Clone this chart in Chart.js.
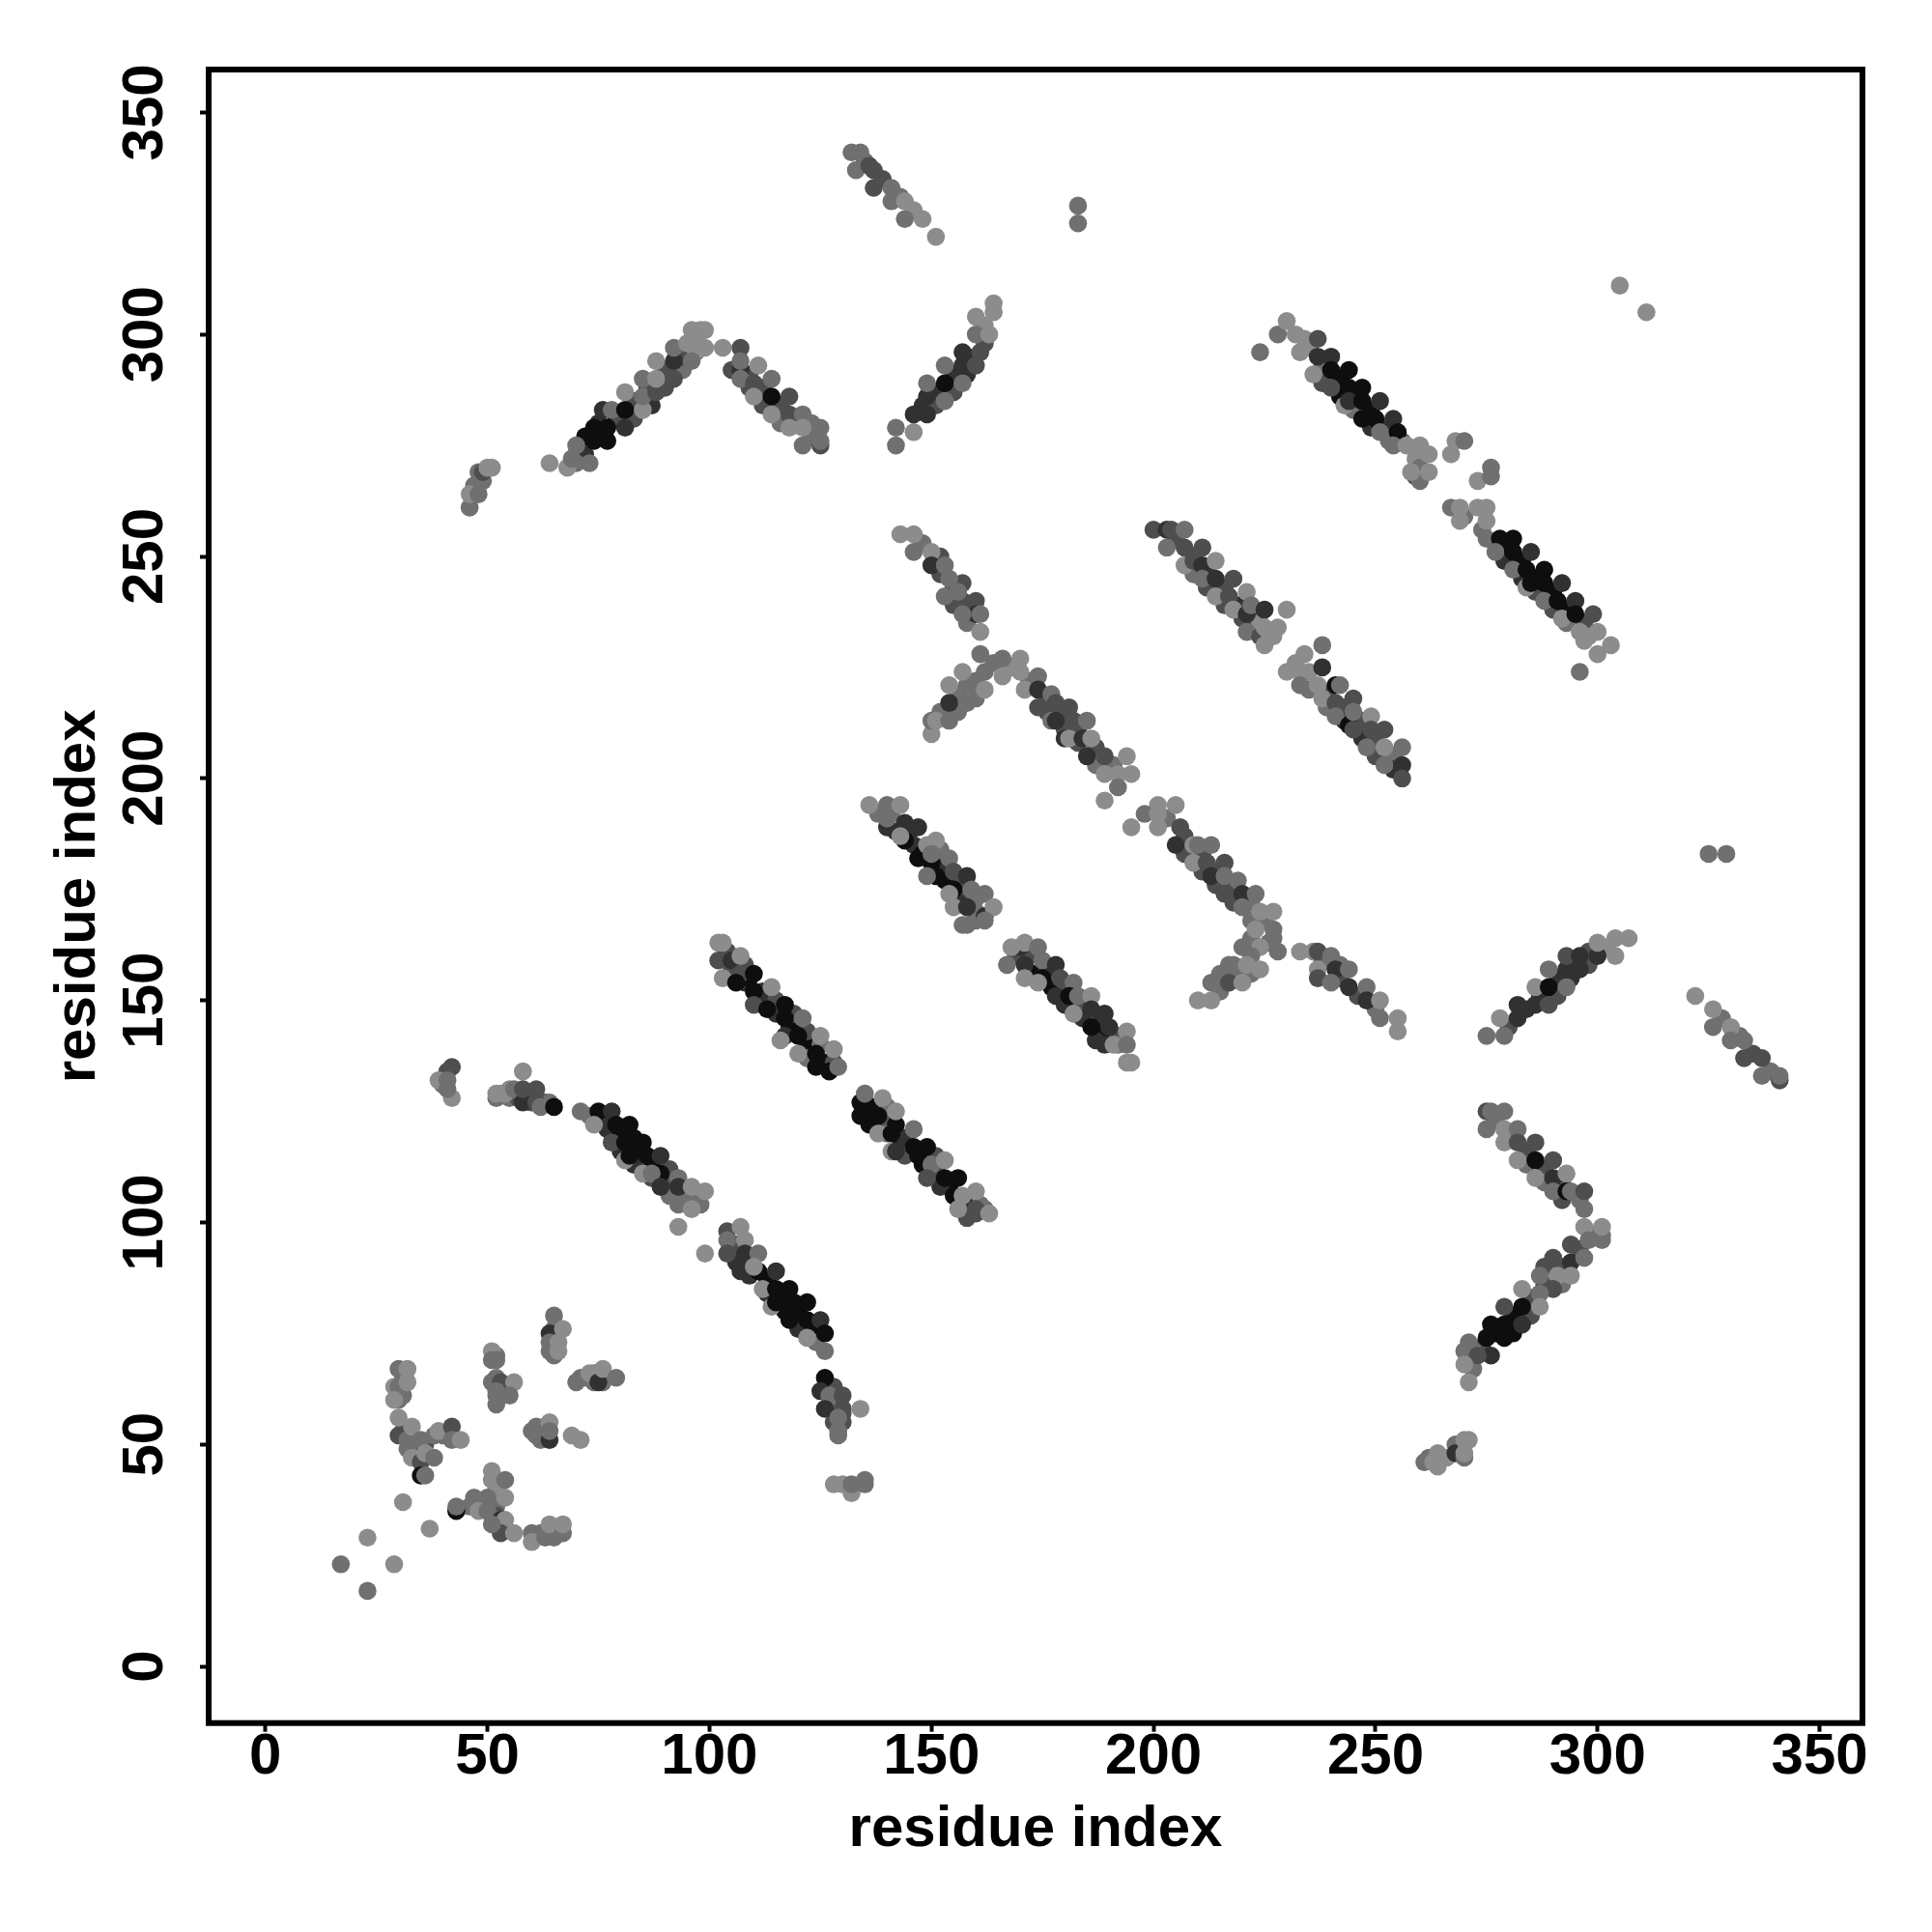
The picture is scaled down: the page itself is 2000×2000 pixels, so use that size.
<!DOCTYPE html>
<html><head><meta charset="utf-8"><style>html,body{margin:0;padding:0;background:#fff}canvas{display:block}</style>
<script src="https://cdn.jsdelivr.net/npm/chart.js@4/dist/chart.umd.min.js"></script></head><body>
<canvas id="c" width="2000" height="2000"></canvas>
<script>
const tickValues=[0,50,100,150,200,250,300,350];
const xTitle="residue index", yTitle="residue index";
// each contact: [residue x, residue y, strength 1..5]
const cornerContacts=[[17,23,2],[29,23,1],[23,29,1],[37,31,1],[31,37,1],[23,17,2],[43,35,5],[43,36,2],[35,43,5],[36,43,2]];
const clusterLeft=[[30,67,2],[32,67,1],[29,63,1],[30,63,2],[32,64,1],[30,60,2],[29,60,1],[30,56,1],[30,52,3],[32,51,2],[32,49,2],[33,47,1],[35,46,3],[33,54,1],[35,51,2],[38,52,2],[39,53,1],[42,54,3],[42,51,2],[44,51,1],[36,48,1],[38,47,2]];
const clusterMid=[[51,71,1],[51,69,2],[52,69,2],[51,64,2],[53,64,3],[56,64,1],[52,61,2],[55,61,2],[52,62,2],[61,54,2],[64,55,1],[61,52,2],[64,51,4],[64,53,2],[69,52,1],[71,51,1],[65,79,2],[64,75,4],[67,76,1],[64,71,2],[64,73,2],[66,73,1],[66,71,1],[70,64,2],[72,65,2],[73,66,1],[75,64,4],[76,67,1],[79,65,2]];
const clusterLow=[[51,44,1],[51,42,1],[54,42,2],[54,38,1],[50,38,2],[47,38,2],[46,36,2],[48,35,1],[50,35,2],[53,33,4],[54,33,1],[53,30,3],[51,32,2],[56,30,1],[60,30,2],[60,28,1],[63,29,2],[64,32,1],[67,30,2],[67,32,1]];
const nearTop=[[42,135,3],[39,132,1],[41,132,2],[42,128,1],[41,130,2],[52,128,2],[52,129,1],[54,129,1],[56,130,2],[58,134,1],[58,127,4],[58,130,3],[61,127,3],[61,130,3],[62,126,2],[65,126,5]];
const arcLow=[[71,125,2],[75,125,5],[78,125,4],[74,122,1],[79,122,5],[82,122,5],[78,118,3],[81,118,5],[85,118,5],[81,114,1],[82,115,5],[86,115,5],[89,115,4],[89,111,5],[85,111,1],[87,111,2],[93,110,2],[89,108,4],[93,108,4],[93,104,2],[98,104,2],[96,103,1],[96,108,1],[99,107,1],[93,99,1],[99,93,1]];
const arcLow2=[[104,98,3],[104,96,2],[107,99,1],[108,96,1],[104,93,3],[108,93,4],[111,93,2],[107,89,4],[111,89,5],[115,89,4],[110,90,1],[112,85,1],[115,85,5],[118,85,5],[114,81,1],[115,82,5],[119,82,5],[122,82,5],[118,78,5],[122,78,5],[125,78,4],[122,74,1],[126,75,5],[126,71,2],[126,65,5],[125,62,4],[127,61,2],[126,58,4],[130,61,3],[130,57,3],[134,58,1],[129,56,2],[129,53,2],[129,52,2],[128,41,1],[130,41,1],[132,39,1],[132,41,2],[135,42,2],[135,41,2]];
const stripB=[[102,163,1],[103,163,1],[102,159,3],[105,159,4],[107,160,1],[103,155,1],[107,156,3],[110,156,5],[106,154,5],[110,152,5],[114,153,1],[110,149,3],[113,148,5],[117,149,5],[117,146,5],[121,146,2],[117,142,4],[116,141,1],[120,142,5],[120,138,1],[125,142,1],[124,138,5],[128,139,1],[124,135,5],[127,134,5],[129,135,2]];
const stripC=[[134,127,5],[135,129,2],[134,124,5],[138,124,5],[139,128,1],[142,122,5],[142,125,1],[138,120,1],[141,120,5],[146,121,2],[141,116,1],[142,116,4],[146,117,5],[149,117,5],[148,113,5],[150,113,2],[153,114,1],[149,110,3],[153,110,5],[156,110,5],[155,106,5],[157,106,1],[160,107,1],[160,103,3],[160,102,3],[156,103,1],[163,102,1]];
const stripD=[[170,162,4],[168,162,1],[171,163,1],[174,162,2],[167,158,2],[171,158,4],[175,159,2],[178,158,4],[175,155,5],[171,155,1],[174,154,1],[179,155,3],[182,154,2],[178,151,4],[181,151,5],[183,151,2],[186,151,1],[182,147,1],[186,148,4],[189,147,4],[186,144,5],[190,144,4],[194,143,1],[189,140,4],[191,140,1],[194,140,2],[194,136,1],[195,136,1]];
const stripA=[[136,194,1],[140,194,2],[143,194,1],[140,189,4],[140,191,2],[147,189,4],[144,190,4],[144,186,5],[143,187,1],[147,182,5],[149,185,1],[151,186,1],[150,181,5],[150,183,2],[154,182,2],[155,179,3],[158,178,4],[151,178,5],[149,178,2],[155,175,5],[154,174,1],[159,175,2],[162,174,2],[155,171,1],[158,171,4],[162,169,4],[164,171,1],[162,168,2],[158,167,2],[157,167,2]];
const stripE=[[150,210,1],[150,213,2],[151,213,1],[154,213,2],[154,217,4],[154,221,1],[158,217,2],[158,221,2],[157,224,1],[162,220,1],[162,224,2],[161,228,2],[166,227,2],[166,223,1],[170,227,1],[170,224,1],[171,220,1],[174,223,2],[174,220,4],[174,216,3],[177,219,2],[178,217,3],[181,216,3],[177,213,2],[178,213,4],[182,213,3],[185,213,2],[180,209,4],[181,209,1],[184,209,4],[186,209,1],[185,205,4],[189,205,3],[194,205,1],[189,201,1],[192,201,1],[195,201,1],[192,198,2],[189,195,1]];
const stripF=[[201,194,1],[205,194,1],[198,192,2],[201,192,1],[195,189,1],[201,189,1],[205,185,4],[206,189,3],[209,185,1],[210,185,2],[213,185,2],[209,181,1],[212,181,3],[216,181,3],[213,178,4],[216,178,2],[219,177,2],[216,174,3],[220,174,4],[223,174,2],[220,171,2],[224,170,1],[227,170,1],[223,166,1],[227,166,2],[227,164,2],[220,162,2],[224,162,1],[222,160,2],[228,161,2],[217,158,2],[221,158,1],[224,157,1],[213,154,2],[217,154,3],[220,154,1],[210,150,1],[213,150,1]];
const stripG=[[46,261,2],[46,264,1],[48,264,2],[48,269,2],[49,269,3],[51,270,1],[50,270,1],[64,271,1],[68,270,1],[69,272,2],[73,271,2],[70,275,2],[74,276,5],[77,276,5],[74,279,5],[77,279,5],[81,279,4],[76,283,4],[78,283,2],[81,283,5],[85,283,1],[81,287,1],[85,286,2],[88,287,3],[85,290,2],[88,290,1],[92,290,3],[88,294,1],[92,294,4],[96,294,2],[92,297,2],[95,298,1],[99,297,1],[96,301,1],[99,301,1],[98,301,1]];
const stripG2=[[103,297,1],[107,297,3],[107,292,4],[107,294,2],[111,293,1],[107,290,2],[110,289,3],[114,290,2],[110,286,1],[114,286,5],[118,286,3],[114,282,1],[118,282,3],[121,282,2],[118,279,1],[121,279,1],[125,279,2],[121,275,2],[125,275,3],[125,276,2]];
const stripH=[[142,279,2],[142,275,2],[146,278,1],[146,282,4],[149,282,4],[149,286,4],[153,285,2],[149,289,2],[153,289,5],[157,289,2],[153,293,2],[157,293,4],[160,293,3],[157,296,4],[161,296,3],[160,300,2],[163,300,1],[160,304,1],[164,305,1],[164,307,1]];
const stripI=[[143,255,1],[146,255,1],[146,251,2],[150,251,1],[150,248,4],[153,248,2],[157,244,3],[154,245,2],[153,241,2],[157,240,3],[156,242,2],[160,240,3],[160,237,4],[161,237,2],[157,237,2],[161,233,1]];
const stripJ=[[132,341,2],[134,341,2],[133,337,2],[137,337,3],[136,338,3],[137,333,3],[141,333,2],[141,330,2],[144,330,1],[144,326,2],[148,326,1],[151,322,1]];
const stripJ2=[[322,151,1],[326,148,1],[326,144,2],[330,144,1],[330,141,2],[333,141,2],[333,137,3],[337,137,3],[337,133,2],[341,132,3],[341,133,2]];
const lone=[[183,329,2],[183,325,2],[325,183,2],[329,183,2],[305,311,1],[311,305,1]];
const stripK=[[224,296,2],[228,300,2],[230,303,1],[232,300,1],[233,296,1],[234,299,1],[237,299,3],[237,295,4],[240,295,4],[236,291,1],[240,292,5],[244,292,5],[240,288,3],[244,288,5],[247,288,5],[243,284,1],[244,285,4],[247,285,5],[251,285,4],[247,281,5],[250,281,5],[254,281,4],[251,278,2],[255,278,5],[254,275,2],[257,275,1],[260,275,1],[262,273,1],[259,268,3],[260,267,2],[258,269,1],[262,269,1],[268,276,1],[270,276,2],[267,273,1],[273,267,1],[276,270,2],[276,268,2]];
const stripK2=[[267,261,2],[269,258,1],[269,261,1],[273,261,1],[275,261,1],[275,258,1],[275,254,2],[278,254,5],[281,254,5],[277,251,2],[281,251,5],[285,251,4],[281,247,2],[284,247,5],[288,247,5],[284,243,1],[285,244,5],[288,244,5],[292,244,4],[288,240,2],[291,240,5],[295,240,4],[292,236,1],[295,237,5],[299,237,3],[296,233,1],[300,233,1],[303,230,1],[300,228,1],[296,224,2]];
const stripL=[[200,256,3],[203,256,4],[204,256,3],[207,256,2],[203,252,2],[207,252,3],[211,252,3],[207,248,1],[209,249,3],[211,248,4],[214,249,1],[211,245,2],[214,245,4],[218,245,3],[214,241,1],[217,241,3],[221,242,1],[218,238,1],[221,237,4],[222,239,2],[225,238,4],[230,238,1],[221,233,2],[224,232,3],[225,230,1],[225,234,1],[226,233,1],[228,234,1]];
const stripM=[[238,230,2],[234,228,1],[230,224,1],[232,226,1],[233,224,1],[238,225,4],[233,221,2],[237,221,1],[241,221,5],[242,221,2],[238,218,1],[241,217,3],[245,218,3],[241,214,2],[244,212,5],[245,215,2],[245,211,3],[249,214,1],[249,211,3],[248,207,2],[252,211,3],[252,207,1],[256,207,2],[252,203,2],[256,203,4],[256,200,3]];
const stripN=[[233,161,1],[236,161,1],[237,161,3],[240,160,2],[237,157,1],[237,155,3],[241,157,4],[244,157,2],[240,154,2],[244,153,4],[248,153,2],[248,150,4],[251,150,1],[251,146,2],[255,146,1],[255,143,1]];
const stripLR=[[275,142,2],[279,142,2],[278,146,1],[282,146,4],[282,149,4],[286,149,4],[289,149,3],[286,153,1],[289,153,5],[293,153,2],[289,157,2],[293,157,4],[296,157,4],[293,160,3],[296,160,4],[300,160,4],[300,163,1],[304,160,1],[304,164,1],[307,164,1]];
const stripLR2=[[275,125,3],[276,125,2],[279,125,2],[275,121,2],[279,121,1],[279,118,1],[282,121,2],[282,118,3],[286,118,3],[282,114,1],[286,114,5],[286,110,1],[290,114,3],[290,110,4],[293,111,1],[290,107,2],[293,107,5],[294,107,2],[297,107,3],[297,103,2],[297,99,1],[301,96,2],[301,97,2],[301,99,1],[298,96,2],[294,95,3],[294,91,4],[297,92,2],[290,92,3],[291,88,1],[294,88,1],[287,88,2],[290,85,3],[287,84,2],[283,85,1],[287,81,1],[283,81,5],[279,81,3],[283,77,4],[279,77,5],[276,77,5],[275,74,5],[279,74,5],[271,73,2],[276,70,4],[273,70,3],[270,68,1],[271,64,1]];
const stripLR3=[[261,46,2],[263,46,1],[264,45,1],[264,48,1],[268,48,4],[270,47,2],[270,48,1],[270,51,1],[271,51,1]];
// weaker or overlapped contacts, seen at the edges of the strips, painted beneath them
const underArc=[[73,124,2],[76,123,4],[77,121,4],[80,120,5],[83,119,5],[80,116,4],[84,116,5],[83,113,4],[87,113,5],[87,110,3],[91,112,3],[91,109,3],[91,106,2],[95,106,2],[95,104,2],[97,106,2],[106,95,3],[106,91,4],[109,91,4],[109,88,4],[113,87,5],[113,84,4],[116,83,5],[117,80,5],[120,80,5],[120,76,4],[124,76,5],[124,73,2],[127,59,3],[128,63,3],[129,59,2],[128,55,3],[130,55,3],[130,58,3]];
const underBCD=[[104,161,3],[105,157,3],[108,158,3],[108,154,4],[109,155,5],[111,151,4],[112,152,4],[112,149,4],[115,147,4],[115,150,3],[118,144,4],[119,144,5],[119,147,3],[122,140,5],[122,143,3],[122,137,2],[125,140,2],[126,136,5],[128,136,3],[136,126,5],[137,126,5],[140,126,2],[136,122,5],[140,122,3],[140,120,2],[143,119,5],[144,119,4],[144,115,3],[147,115,5],[151,115,3],[150,111,4],[151,112,3],[154,108,5],[152,108,4],[157,104,3],[158,104,4],[158,101,3],[161,104,2],[162,103,2],[169,160,3],[172,160,3],[173,156,5],[176,157,4],[177,153,5],[180,152,3],[180,149,4],[184,149,3],[184,146,4],[188,145,4],[188,142,5],[192,142,3],[192,140,2],[187,141,4]];
const underAEF=[[138,192,2],[141,192,2],[142,188,4],[145,188,4],[146,185,4],[148,183,5],[152,184,2],[152,180,4],[153,177,5],[157,177,3],[157,173,3],[156,172,4],[160,173,2],[160,170,2],[160,168,2],[152,215,2],[156,215,2],[156,219,2],[160,218,2],[160,222,2],[164,226,2],[168,225,1],[172,222,2],[176,217,3],[176,215,3],[179,214,3],[180,211,3],[183,211,3],[183,208,3],[187,207,3],[187,203,2],[191,203,2],[203,191,2],[207,187,3],[207,183,3],[211,183,3],[211,179,3],[214,179,3],[214,176,3],[218,176,3],[218,172,3],[222,172,2],[222,168,2],[225,168,2],[226,163,2],[222,156,2],[219,156,2],[215,156,2],[215,152,2],[218,158,2],[222,164,2]];
const underGHIJ=[[47,266,2],[49,267,2],[70,273,2],[72,273,4],[72,277,5],[75,277,5],[75,280,4],[79,281,5],[80,281,3],[83,281,3],[83,285,3],[86,288,3],[87,284,4],[90,288,3],[90,292,3],[94,292,2],[94,295,3],[97,299,1],[97,296,1],[70,271,2],[105,292,3],[109,291,3],[109,288,3],[112,288,3],[112,284,3],[116,284,3],[116,280,2],[119,280,2],[123,277,2],[123,280,2],[148,284,4],[151,287,4],[151,284,3],[155,287,3],[155,291,4],[158,291,4],[158,295,4],[162,298,3],[162,302,1],[148,253,2],[152,250,3],[152,246,3],[155,243,3],[155,239,3],[159,238,3],[158,235,2],[135,339,2],[139,335,3],[143,331,2],[146,328,1],[328,146,2],[332,142,2],[335,138,3],[339,134,2]];
const underKLM=[[235,297,1],[238,293,2],[238,289,3],[242,290,5],[242,286,5],[245,286,5],[245,283,2],[249,283,5],[249,279,4],[253,279,4],[253,276,2],[256,276,2],[259,272,1],[260,270,2],[270,259,2],[274,256,2],[279,252,5],[279,249,4],[283,249,5],[283,245,4],[286,245,5],[286,242,3],[290,242,5],[290,238,3],[293,238,5],[293,235,2],[297,235,3],[298,232,1],[297,231,1],[205,254,3],[209,250,3],[209,246,2],[212,247,4],[212,243,3],[216,243,3],[216,239,3],[219,239,4],[220,236,3],[223,236,3],[223,233,2],[227,232,1],[224,235,1],[235,224,1],[235,220,2],[239,219,3],[239,216,2],[243,216,3],[243,213,4],[247,213,3],[247,209,4],[250,209,3],[250,205,3],[254,205,2],[254,202,4]];
const underLower=[[239,159,3],[242,155,3],[246,151,3],[242,158,2],[238,159,2],[250,148,2],[280,144,3],[284,148,4],[287,151,4],[291,151,3],[291,155,4],[294,155,4],[294,159,4],[298,158,3],[298,161,3],[302,162,1],[277,123,2],[281,119,2],[284,116,3],[284,113,2],[288,112,3],[288,109,2],[292,109,3],[292,105,3],[296,105,2],[299,97,2],[296,94,3],[292,90,3],[288,90,3],[292,86,2],[288,86,3],[285,83,3],[285,79,3],[281,79,5],[281,75,5],[277,75,5],[274,72,3],[272,71,2],[270,71,2],[272,67,2],[262,47,2],[266,47,1],[268,50,2]];
const underClusters=[[31,65,2],[31,61,2],[31,53,3],[33,51,3],[34,49,2],[36,50,3],[40,52,2],[34,48,3],[52,70,2],[52,65,2],[52,59,2],[53,61,2],[54,63,3],[60,53,2],[62,53,2],[62,51,2],[63,54,2],[65,73,2],[65,70,2],[65,76,2],[71,65,2],[74,64,2],[74,66,2],[76,64,2],[52,40,1],[49,37,2],[49,36,2],[52,36,2],[51,34,3],[52,34,3],[54,31,3],[62,30,2],[65,31,2],[65,29,2],[52,33,2],[41,134,3],[40,131,2],[53,129,1],[55,128,2],[57,128,3],[59,128,3],[60,128,3],[60,127,3],[63,127,3],[64,127,2],[55,130,1]];
const allStrips=[cornerContacts,clusterLeft,clusterMid,clusterLow,nearTop,arcLow,arcLow2,stripB,stripC,stripD,stripA,stripE,stripF,stripG,stripG2,stripH,stripI,stripJ,stripJ2,lone,stripK,stripK2,stripL,stripM,stripN,stripLR,stripLR2,stripLR3,underArc,underBCD,underAEF,underGHIJ,underKLM,underLower,underClusters];
const shadeGray=[0,'#8c8c8c','#707070','#4e4e4e','#313131','#0e0e0e'];
const font={family:'"Liberation Sans",Arial,sans-serif',size:60,weight:'bold'};
new Chart(document.getElementById('c'),{
 type:'scatter',
 data:{datasets:allStrips.map(s=>({
   data:s.map(p=>({x:p[0],y:p[1]})),
   pointBackgroundColor:s.map(p=>shadeGray[p[2]]),
   pointBorderWidth:0,pointRadius:9.3,pointHoverRadius:9.3
 }))},
 options:{responsive:false,animation:false,
  layout:{padding:{top:72,right:72,left:0,bottom:0}},
  plugins:{legend:{display:false},tooltip:{enabled:false}},
  scales:{
   x:{type:'linear',min:-12.77,max:359.65,
     afterBuildTicks:a=>{a.ticks=tickValues.map(v=>({value:v}))},
     afterFit:a=>{a.height=216.3},
     grid:{drawOnChartArea:false,drawTicks:true,tickLength:9,tickWidth:4,tickColor:'#000'},
     border:{display:false},
     ticks:{color:'#000',font,padding:-9,autoSkip:false,maxRotation:0,minRotation:0},
     title:{display:true,text:xTitle,color:'#000',font,padding:{top:0,bottom:70}}},
   y:{type:'linear',min:-12.77,max:359.66,
     afterBuildTicks:a=>{a.ticks=tickValues.map(v=>({value:v}))},
     afterFit:a=>{a.width=216},
     grid:{drawOnChartArea:false,drawTicks:true,tickLength:9,tickWidth:4,tickColor:'#000'},
     border:{display:false},
     ticks:{color:'#000',font,padding:5,autoSkip:false,maxRotation:90,minRotation:90,crossAlign:'center'},
     title:{display:true,text:yTitle,color:'#000',font,padding:{top:45,bottom:0}}}
  }
 },
 plugins:[{id:'frame',afterDatasetsDraw(ch){const a=ch.chartArea,c=ch.ctx;c.save();c.strokeStyle='#000';c.lineWidth=6;c.lineJoin='miter';c.strokeRect(a.left,a.top,a.right-a.left,a.bottom-a.top);c.restore();}}]
});
</script></body></html>
